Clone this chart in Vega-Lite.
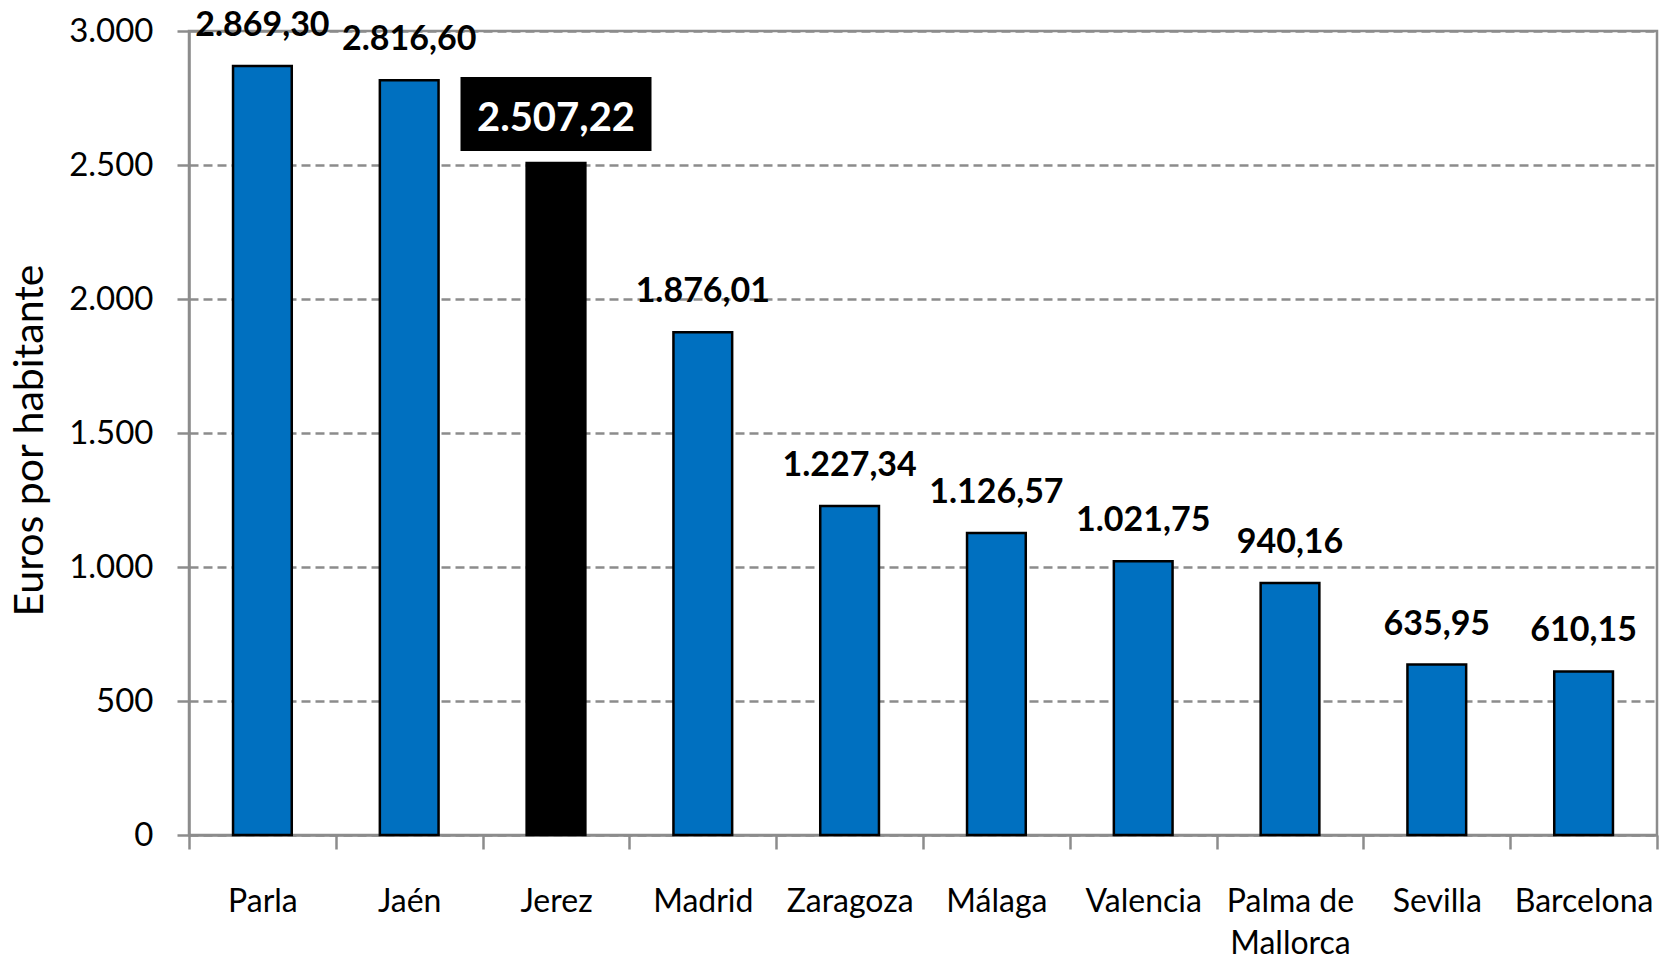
{
  "$schema": "https://vega.github.io/schema/vega-lite/v6.json",
  "autosize": {"type": "none"},
  "padding": {"left": 189, "top": 31, "right": 20, "bottom": 124},
  "width": 1468,
  "height": 804,
  "background": "white",
  "config": {
    "locale": {"number": {"decimal": ",", "thousands": ".", "grouping": [3], "currency": ["", " €"]}},
    "font": "Lato",
    "view": {"stroke": "#8c8c8c", "strokeWidth": 2.5}
  },
  "data": {
    "values": [
      {"ciudad": "Parla", "valor": 2869.30},
      {"ciudad": "Jaén", "valor": 2816.60},
      {"ciudad": "Jerez", "valor": 2507.22},
      {"ciudad": "Madrid", "valor": 1876.01},
      {"ciudad": "Zaragoza", "valor": 1227.34},
      {"ciudad": "Málaga", "valor": 1126.57},
      {"ciudad": "Valencia", "valor": 1021.75},
      {"ciudad": "Palma de Mallorca", "valor": 940.16},
      {"ciudad": "Sevilla", "valor": 635.95},
      {"ciudad": "Barcelona", "valor": 610.15}
    ]
  },
  "encoding": {
    "x": {
      "field": "ciudad", "type": "nominal", "sort": null,
      "scale": {"paddingInner": 0, "paddingOuter": 0},
      "axis": {
        "title": null, "labelAngle": 0, "tickBand": "extent",
        "labelFont": "Lato", "labelFontSize": 32, "labelColor": "black",
        "labelBaseline": "top", "labelPadding": 37, "labelLineHeight": 42,
        "labelExpr": "datum.label == 'Palma de Mallorca' ? ['Palma de', 'Mallorca'] : datum.label",
        "domainColor": "#8c8c8c", "domainWidth": 2.5,
        "tickColor": "#8c8c8c", "tickWidth": 2.5, "tickSize": 14
      }
    },
    "y": {
      "field": "valor", "type": "quantitative",
      "scale": {"domain": [0, 3000], "nice": false},
      "axis": {
        "title": "Euros por habitante",
        "titleFont": "Lato", "titleFontSize": 41, "titleFontWeight": "normal", "titleColor": "black",
        "titleX": -159, "titleY": 409, "titleBaseline": "middle", "titleAlign": "center", "titleAngle": -90,
        "values": [0, 500, 1000, 1500, 2000, 2500, 3000],
        "format": ",.0f",
        "labelFont": "Lato", "labelFontSize": 33, "labelColor": "black", "labelPadding": 24,
        "domainColor": "#8c8c8c", "domainWidth": 2.5,
        "tickColor": "#8c8c8c", "tickWidth": 2.5, "tickSize": 12,
        "grid": true, "gridColor": "#8c8c8c", "gridWidth": 2.5, "gridDash": [9, 5]
      }
    }
  },
  "layer": [
    {
      "mark": {"type": "bar", "stroke": "black", "strokeWidth": 2.5, "width": {"band": 0.4}},
      "encoding": {
        "color": {
          "condition": {"test": "datum.ciudad === 'Jerez'", "value": "black"},
          "value": "#0070C0"
        }
      }
    },
    {
      "transform": [{"filter": "datum.ciudad !== 'Jerez'"}],
      "mark": {"type": "text", "baseline": "alphabetic", "dy": -30, "fontSize": 34, "fontWeight": "bold", "font": "Lato", "color": "black"},
      "encoding": {"text": {"field": "valor", "type": "quantitative", "format": ",.2f"}}
    },
    {
      "transform": [{"filter": "datum.ciudad === 'Jerez'"}],
      "mark": {"type": "bar", "color": "black", "width": 191, "yOffset": -86, "y2Offset": -12},
      "encoding": {"y2": {"field": "valor"}}
    },
    {
      "transform": [{"filter": "datum.ciudad === 'Jerez'"}],
      "mark": {"type": "text", "baseline": "middle", "dy": -44, "fontSize": 40, "fontWeight": "bold", "font": "Lato", "color": "white"},
      "encoding": {"text": {"field": "valor", "type": "quantitative", "format": ",.2f"}}
    }
  ]
}
